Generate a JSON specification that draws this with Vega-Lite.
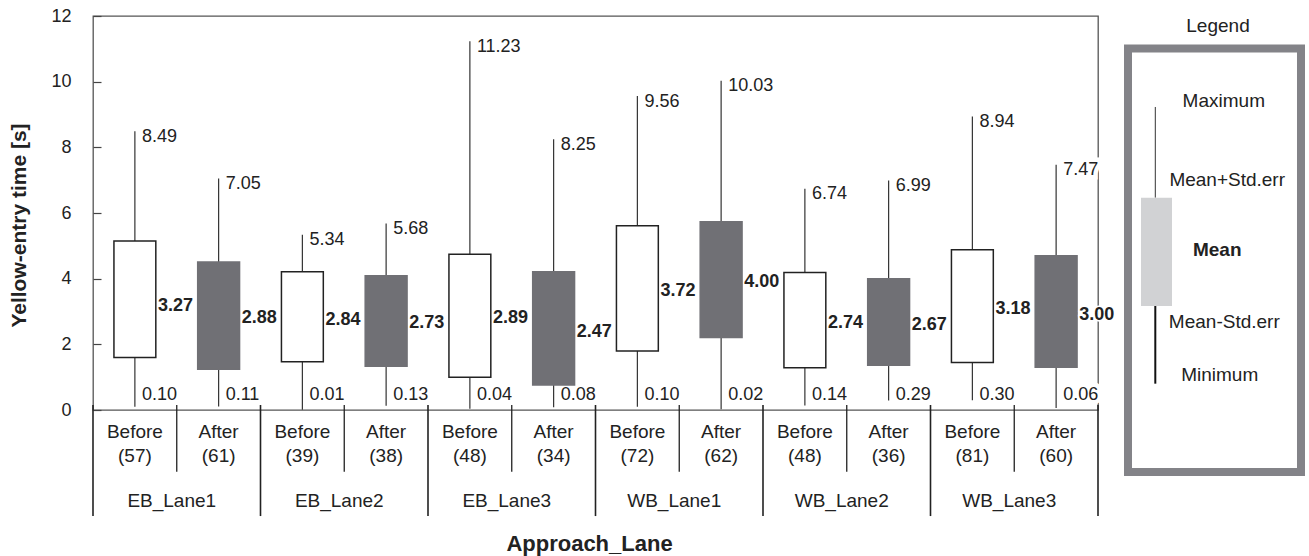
{
  "$schema": "https://vega.github.io/schema/vega-lite/v6.json",
  "autosize": {"type": "pad"},
  "padding": {"left": 7, "top": 6, "right": 0, "bottom": 10},
  "background": "white",
  "spacing": 20,
  "bounds": "flush",
  "config": {
    "view": {"stroke": null},
    "font": "Liberation Sans",
    "text": {"font": "Liberation Sans"},
    "axis": {"labelFont": "Liberation Sans", "titleFont": "Liberation Sans"}
  },
  "datasets": {
    "lanes": [
      {"cat": "EB_Lane1 Before", "approach": "EB_Lane1", "phase": "Before", "nLabel": "(57)", "min": 0.10, "lo": 1.60, "mean": 3.27, "hi": 5.15, "max": 8.49},
      {"cat": "EB_Lane1 After", "approach": "EB_Lane1", "phase": "After", "nLabel": "(61)", "min": 0.11, "lo": 1.24, "mean": 2.88, "hi": 4.51, "max": 7.05},
      {"cat": "EB_Lane2 Before", "approach": "EB_Lane2", "phase": "Before", "nLabel": "(39)", "min": 0.01, "lo": 1.47, "mean": 2.84, "hi": 4.21, "max": 5.34},
      {"cat": "EB_Lane2 After", "approach": "EB_Lane2", "phase": "After", "nLabel": "(38)", "min": 0.13, "lo": 1.33, "mean": 2.73, "hi": 4.09, "max": 5.68},
      {"cat": "EB_Lane3 Before", "approach": "EB_Lane3", "phase": "Before", "nLabel": "(48)", "min": 0.04, "lo": 1.00, "mean": 2.89, "hi": 4.74, "max": 11.23},
      {"cat": "EB_Lane3 After", "approach": "EB_Lane3", "phase": "After", "nLabel": "(34)", "min": 0.08, "lo": 0.76, "mean": 2.47, "hi": 4.21, "max": 8.25},
      {"cat": "WB_Lane1 Before", "approach": "WB_Lane1", "phase": "Before", "nLabel": "(72)", "min": 0.10, "lo": 1.80, "mean": 3.72, "hi": 5.61, "max": 9.56},
      {"cat": "WB_Lane1 After", "approach": "WB_Lane1", "phase": "After", "nLabel": "(62)", "min": 0.02, "lo": 2.21, "mean": 4.00, "hi": 5.73, "max": 10.03},
      {"cat": "WB_Lane2 Before", "approach": "WB_Lane2", "phase": "Before", "nLabel": "(48)", "min": 0.14, "lo": 1.29, "mean": 2.74, "hi": 4.19, "max": 6.74},
      {"cat": "WB_Lane2 After", "approach": "WB_Lane2", "phase": "After", "nLabel": "(36)", "min": 0.29, "lo": 1.36, "mean": 2.67, "hi": 4.00, "max": 6.99},
      {"cat": "WB_Lane3 Before", "approach": "WB_Lane3", "phase": "Before", "nLabel": "(81)", "min": 0.30, "lo": 1.45, "mean": 3.18, "hi": 4.88, "max": 8.94},
      {"cat": "WB_Lane3 After", "approach": "WB_Lane3", "phase": "After", "nLabel": "(60)", "min": 0.06, "lo": 1.30, "mean": 3.00, "hi": 4.70, "max": 7.47}
    ]
  },
  "hconcat": [
    {
      "width": 1005,
      "height": 394,
      "data": {"name": "lanes"},
      "view": {"stroke": "#555", "strokeWidth": 1.3},
      "encoding": {
        "x": {
          "field": "cat",
          "type": "nominal",
          "scale": {
            "domain": ["EB_Lane1 Before", "EB_Lane1 After", "EB_Lane2 Before", "EB_Lane2 After", "EB_Lane3 Before", "EB_Lane3 After", "WB_Lane1 Before", "WB_Lane1 After", "WB_Lane2 Before", "WB_Lane2 After", "WB_Lane3 Before", "WB_Lane3 After"],
            "paddingInner": 0,
            "paddingOuter": 0
          },
          "axis": {
            "labels": false,
            "ticks": false,
            "domain": false,
            "grid": false,
            "title": "Approach_Lane",
            "titleFontSize": 22,
            "titleFontWeight": "bold",
            "titleColor": "#222",
            "titleX": 496,
            "titleY": 140,
            "titleBaseline": "alphabetic"
          }
        }
      },
      "layer": [
        {
          "mark": {"type": "rule", "color": "#333", "strokeWidth": 1.2},
          "encoding": {
            "y": {
              "field": "min",
              "type": "quantitative",
              "scale": {"domain": [0, 12], "nice": false, "zero": false},
              "axis": {
                "values": [0, 2, 4, 6, 8, 10, 12],
                "tickSize": -8,
                "tickColor": "#444",
                "tickWidth": 1.2,
                "labelPadding": 30,
                "labelFontSize": 18,
                "labelColor": "#222",
                "domain": false,
                "grid": false,
                "title": "Yellow-entry time [s]",
                "titleFontSize": 21,
                "titleFontWeight": "bold",
                "titleColor": "#222",
                "titleX": -68,
                "titleY": 209,
                "titleBaseline": "alphabetic"
              }
            },
            "y2": {"field": "max"}
          }
        },
        {
          "mark": {"type": "bar", "width": {"band": 0.5}, "strokeWidth": 1.5},
          "encoding": {
            "y": {"field": "lo", "type": "quantitative"},
            "y2": {"field": "hi"},
            "color": {"field": "phase", "type": "nominal", "scale": {"domain": ["Before", "After"], "range": ["#ffffff", "#707075"]}, "legend": null},
            "stroke": {"field": "phase", "type": "nominal", "scale": {"domain": ["Before", "After"], "range": ["#222222", "#707075"]}, "legend": null}
          }
        },
        {
          "transform": [{"filter": "datum.cat == 'WB_Lane3 After'"}],
          "mark": {"type": "text", "align": "left", "baseline": "middle", "dx": 7, "dy": 5.5, "fontSize": 18, "color": "white", "stroke": "white", "strokeWidth": 9},
          "encoding": {"y": {"field": "max", "type": "quantitative"}, "text": {"field": "max", "type": "quantitative", "format": ".2f"}}
        },
        {
          "transform": [{"filter": "datum.cat == 'WB_Lane3 After'"}],
          "mark": {"type": "text", "align": "left", "baseline": "middle", "dx": 23, "dy": 3, "fontSize": 18, "fontWeight": "bold", "color": "white", "stroke": "white", "strokeWidth": 3},
          "encoding": {"y": {"field": "mean", "type": "quantitative"}, "text": {"field": "mean", "type": "quantitative", "format": ".2f"}}
        },
        {
          "transform": [{"filter": "datum.cat == 'WB_Lane3 After'"}],
          "mark": {"type": "text", "align": "left", "baseline": "middle", "dx": 7, "fontSize": 18, "color": "white", "stroke": "white", "strokeWidth": 9},
          "encoding": {"y": {"datum": 0.448}, "text": {"field": "min", "type": "quantitative", "format": ".2f"}}
        },
        {
          "mark": {"type": "text", "align": "left", "baseline": "middle", "dx": 7, "dy": 5.5, "fontSize": 18, "color": "#222"},
          "encoding": {"y": {"field": "max", "type": "quantitative"}, "text": {"field": "max", "type": "quantitative", "format": ".2f"}}
        },
        {
          "mark": {"type": "text", "align": "left", "baseline": "middle", "dx": 23, "dy": 3, "fontSize": 18, "fontWeight": "bold", "color": "#222"},
          "encoding": {"y": {"field": "mean", "type": "quantitative"}, "text": {"field": "mean", "type": "quantitative", "format": ".2f"}}
        },
        {
          "mark": {"type": "text", "align": "left", "baseline": "middle", "dx": 7, "fontSize": 18, "color": "#222"},
          "encoding": {"y": {"datum": 0.448}, "text": {"field": "min", "type": "quantitative", "format": ".2f"}}
        },
        {
          "transform": [{"filter": "datum.phase == 'Before'"}],
          "mark": {"type": "rule", "color": "#222", "strokeWidth": 1.6},
          "encoding": {
            "x": {"field": "cat", "type": "nominal", "bandPosition": 0},
            "y": {"datum": 0.152},
            "y2": {"datum": -3.23}
          }
        },
        {
          "transform": [{"filter": "datum.cat == 'WB_Lane3 After'"}],
          "mark": {"type": "rule", "color": "#222", "strokeWidth": 1.6},
          "encoding": {
            "x": {"field": "cat", "type": "nominal", "bandPosition": 1},
            "y": {"datum": 0.152},
            "y2": {"datum": -3.23}
          }
        },
        {
          "transform": [{"filter": "datum.phase == 'After'"}],
          "mark": {"type": "rule", "color": "#222", "strokeWidth": 1.3},
          "encoding": {
            "x": {"field": "cat", "type": "nominal", "bandPosition": 0},
            "y": {"datum": 0.152},
            "y2": {"datum": -1.88}
          }
        },
        {
          "mark": {"type": "text", "align": "center", "baseline": "alphabetic", "fontSize": 19, "color": "#222"},
          "encoding": {"y": {"datum": -0.862}, "text": {"field": "phase", "type": "nominal"}}
        },
        {
          "mark": {"type": "text", "align": "center", "baseline": "alphabetic", "fontSize": 19, "color": "#222"},
          "encoding": {"y": {"datum": -1.574}, "text": {"field": "nLabel", "type": "nominal"}}
        },
        {
          "transform": [{"filter": "datum.phase == 'Before'"}],
          "mark": {"type": "text", "align": "center", "baseline": "alphabetic", "fontSize": 19, "color": "#222", "dx": -5},
          "encoding": {
            "x": {"field": "cat", "type": "nominal", "bandPosition": 1},
            "y": {"datum": -2.954},
            "text": {"field": "approach", "type": "nominal"}
          }
        }
      ]
    },
    {
      "width": 192,
      "height": 460,
      "data": {"values": [{}]},
      "layer": [
        {
          "mark": {"type": "rect", "filled": false, "stroke": "#838388", "strokeWidth": 8},
          "encoding": {
            "x": {"datum": 5.21, "type": "quantitative", "scale": {"domain": [0, 100], "nice": false, "zero": false}, "axis": null},
            "x2": {"datum": 95.31},
            "y": {"datum": 92.93, "type": "quantitative", "scale": {"domain": [0, 100], "nice": false, "zero": false}, "axis": null},
            "y2": {"datum": 0.87}
          }
        },
        {
          "mark": {"type": "rule", "color": "#333", "strokeWidth": 1},
          "encoding": {"x": {"datum": 19.43}, "y": {"datum": 60.5}, "y2": {"datum": 80.22}}
        },
        {
          "mark": {"type": "rule", "color": "#111", "strokeWidth": 2},
          "encoding": {"x": {"datum": 19.43}, "y": {"datum": 20.07}, "y2": {"datum": 36.96}}
        },
        {
          "mark": {"type": "rect", "color": "#d1d2d4"},
          "encoding": {"x": {"datum": 11.98}, "x2": {"datum": 28.13}, "y": {"datum": 36.96}, "y2": {"datum": 60.5}}
        },
        {
          "mark": {"type": "text", "text": "Legend", "fontSize": 19, "align": "center", "baseline": "alphabetic", "color": "#222"},
          "encoding": {"x": {"datum": 52.08}, "y": {"datum": 96.59}}
        },
        {
          "mark": {"type": "text", "text": "Maximum", "fontSize": 19, "align": "center", "baseline": "alphabetic", "color": "#222"},
          "encoding": {"x": {"datum": 55.1}, "y": {"datum": 80.22}}
        },
        {
          "mark": {"type": "text", "text": "Mean+Std.err", "fontSize": 19, "align": "center", "baseline": "alphabetic", "color": "#222"},
          "encoding": {"x": {"datum": 56.88}, "y": {"datum": 63.04}}
        },
        {
          "mark": {"type": "text", "text": "Mean", "fontSize": 19, "fontWeight": "bold", "align": "center", "baseline": "alphabetic", "color": "#222"},
          "encoding": {"x": {"datum": 51.67}, "y": {"datum": 47.83}}
        },
        {
          "mark": {"type": "text", "text": "Mean-Std.err", "fontSize": 19, "align": "center", "baseline": "alphabetic", "color": "#222"},
          "encoding": {"x": {"datum": 55.36}, "y": {"datum": 32.24}}
        },
        {
          "mark": {"type": "text", "text": "Minimum", "fontSize": 19, "align": "center", "baseline": "alphabetic", "color": "#222"},
          "encoding": {"x": {"datum": 52.97}, "y": {"datum": 20.65}}
        }
      ]
    }
  ]
}
